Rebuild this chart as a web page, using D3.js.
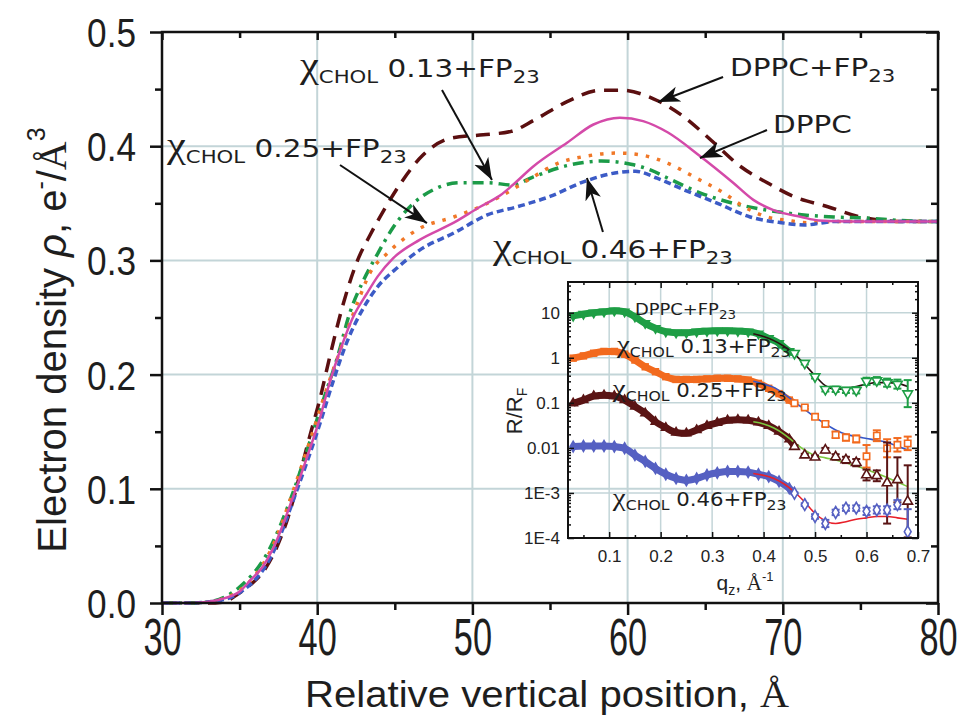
<!DOCTYPE html>
<html>
<head>
<meta charset="utf-8">
<script src="https://cdn.jsdelivr.net/npm/d3@7"></script>
<style>
  body { margin: 0; background: #fff; }
  text { white-space: pre; }
</style>
</head>
<body>
<script>
// ---------- main plot data: electron density profiles ----------
var dppcX = [30, 32, 33, 34, 35, 35.7, 36.5, 37.2, 38.5, 39.35, 40.2, 40.8, 41.5, 42.3, 43.2, 43.9, 44.9, 46.6, 48.8, 50.5, 51.8, 52.6, 53.9, 56.1, 57.8, 59.5, 61.0, 62.6, 64.7, 66.8, 68.1, 69.4, 71.2, 72.3, 74.4, 77, 80];
var dppcY = [0, 0, 0.001, 0.004, 0.010, 0.02, 0.032, 0.049, 0.095, 0.128, 0.163, 0.193, 0.222, 0.250, 0.271, 0.286, 0.302, 0.318, 0.333, 0.347, 0.357, 0.366, 0.382, 0.403, 0.419, 0.425, 0.422, 0.412, 0.391, 0.368, 0.353, 0.344, 0.338, 0.335, 0.334, 0.334, 0.334];

var dppcFpX = [30, 33, 34, 34.8, 35.7, 36.5, 37.4, 38.0, 39.5, 40.2, 40.8, 41.7, 42.6, 43.4, 44.3, 45.4, 46.8, 48.6, 50.7, 52.5, 54.0, 56.1, 58.3, 59.6, 61.9, 63.6, 65.4, 67.3, 69.0, 70.7, 72.9, 75.0, 76.5, 78, 80];
var dppcFpY = [0, 0, 0.001, 0.007, 0.016, 0.027, 0.049, 0.07, 0.145, 0.18, 0.215, 0.263, 0.300, 0.322, 0.344, 0.368, 0.392, 0.407, 0.410, 0.413, 0.423, 0.439, 0.449, 0.449, 0.440, 0.426, 0.405, 0.382, 0.368, 0.356, 0.347, 0.338, 0.335, 0.334, 0.334];

var chol13X = [30, 32, 33, 34, 35.0, 36.8, 38.5, 39.5, 40.4, 41.3, 42.1, 43.0, 43.9, 44.9, 46.2, 47.5, 49.2, 51.0, 52.6, 53.9, 56.1, 58.3, 60.3, 61.5, 62.6, 64.7, 66.8, 69.0, 71.2, 73.3, 75.5, 77.5, 80];
var chol13Y = [0, 0, 0.001, 0.005, 0.014, 0.044, 0.099, 0.140, 0.178, 0.215, 0.254, 0.283, 0.306, 0.329, 0.350, 0.362, 0.368, 0.368, 0.366, 0.373, 0.383, 0.387, 0.384, 0.379, 0.372, 0.359, 0.350, 0.344, 0.340, 0.338, 0.337, 0.335, 0.334];

var chol25X = [30, 32, 33, 34, 35.0, 37.0, 38.7, 39.7, 40.6, 41.5, 42.6, 43.4, 44.5, 45.5, 46.6, 48.8, 50.5, 51.8, 53.9, 55.5, 57.2, 59.4, 61.0, 62.6, 64.3, 66.2, 67.5, 69.0, 70.3, 71.6, 73.3, 76, 80];
var chol25Y = [0, 0, 0.001, 0.004, 0.011, 0.046, 0.108, 0.149, 0.187, 0.222, 0.263, 0.289, 0.306, 0.318, 0.328, 0.338, 0.347, 0.356, 0.373, 0.385, 0.391, 0.394, 0.392, 0.385, 0.373, 0.359, 0.347, 0.338, 0.335, 0.333, 0.334, 0.334, 0.334];

var chol46X = [30, 32, 33, 34, 35.0, 37.0, 38.7, 40.2, 41.0, 41.9, 42.8, 43.9, 45.2, 46.6, 48.8, 51.0, 52.9, 55.0, 57.2, 59.4, 60.5, 61.9, 63.6, 65.8, 67.9, 69.9, 71.4, 73.3, 76, 80];
var chol46Y = [0, 0, 0.001, 0.003, 0.009, 0.040, 0.099, 0.158, 0.193, 0.228, 0.254, 0.277, 0.294, 0.309, 0.324, 0.340, 0.347, 0.356, 0.369, 0.377, 0.378, 0.372, 0.362, 0.350, 0.338, 0.333, 0.331, 0.334, 0.334, 0.334];

var xTicks = [30, 40, 50, 60, 70, 80];
var xMinor = [35, 45, 55, 65, 75];
var yTicks = [0, 0.1, 0.2, 0.3, 0.4, 0.5];
var yMinor = [0.05, 0.15, 0.25, 0.35, 0.45];

// ---------- inset data: reflectivity R/RF ----------
var qDense = [0.03, 0.05, 0.07, 0.09, 0.11, 0.13, 0.15, 0.17, 0.19, 0.21, 0.23, 0.25, 0.27, 0.29, 0.31, 0.33, 0.35, 0.37, 0.39, 0.41, 0.43, 0.45];
var rGreen  = [8.5, 9.3, 10, 10.5, 11, 10.5, 8.1, 5.8, 4.5, 3.8, 3.6, 3.6, 3.8, 3.9, 4.0, 4.0, 3.9, 3.8, 3.4, 2.7, 2.1, 1.4];
var rOrange = [0.98, 1.10, 1.26, 1.38, 1.38, 1.20, 0.89, 0.63, 0.49, 0.38, 0.33, 0.33, 0.33, 0.34, 0.35, 0.35, 0.34, 0.32, 0.27, 0.21, 0.16, 0.115];
var rBrown  = [0.098, 0.115, 0.141, 0.148, 0.141, 0.115, 0.083, 0.059, 0.038, 0.028, 0.022, 0.021, 0.025, 0.031, 0.036, 0.041, 0.042, 0.041, 0.037, 0.031, 0.023, 0.0155];
var rBlue   = [0.0107, 0.011, 0.011, 0.011, 0.0107, 0.0098, 0.0069, 0.0050, 0.0035, 0.0026, 0.0021, 0.0019, 0.0021, 0.0025, 0.0028, 0.0030, 0.0030, 0.0029, 0.0026, 0.0023, 0.0018, 0.00126];

var qSparse = [0.46, 0.48, 0.50, 0.52, 0.54, 0.56, 0.58, 0.60, 0.62, 0.64, 0.66, 0.68];
var sGreen  = [1.26, 0.76, 0.38, 0.20, 0.20, 0.19, 0.19, 0.30, 0.31, 0.28, 0.26, 0.16];
var sOrange = [0.098, 0.079, 0.049, 0.034, 0.0195, 0.017, 0.0158, 0.0065, 0.0186, 0.0098, 0.0117, 0.0126];
var sBrown  = [0.0107, 0.0069, 0.0062, 0.0089, 0.0063, 0.0054, 0.0047, 0.0025, 0.0024, 0.00166, 0.00195, 0.00065];
var sBlue   = [0.00098, 0.00055, 0.0003, 0.00021, 0.00037, 0.00046, 0.00046, 0.00039, 0.00042, 0.00042, 0.00055, 0.000138];
// error half-widths, in decades
var eGreen  = [0.03, 0.03, 0.04, 0.05, 0.06, 0.06, 0.07, 0.08, 0.08, 0.09, 0.1, 0.3];
var eOrange = [0.02, 0.03, 0.04, 0.05, 0.07, 0.07, 0.08, 0.25, 0.12, 0.2, 0.15, 0.15];
var eBrown  = [0.03, 0.03, 0.04, 0.05, 0.06, 0.07, 0.08, 0.12, 0.12, 0.9, 0.5, 0.8];
var eBlue   = [0.02, 0.03, 0.05, 0.08, 0.06, 0.06, 0.06, 0.08, 0.08, 0.08, 0.1, 0.5];

var qFit = [0.38, 0.40, 0.42, 0.44, 0.46, 0.48, 0.50, 0.52, 0.54, 0.56, 0.58, 0.60, 0.62, 0.64, 0.66, 0.68];
var fGreen  = [3.4, 2.95, 2.4, 1.78, 1.2, 0.71, 0.40, 0.24, 0.20, 0.21, 0.23, 0.26, 0.28, 0.28, 0.27, 0.23];
var fOrange = [0.30, 0.26, 0.22, 0.158, 0.105, 0.071, 0.048, 0.034, 0.025, 0.020, 0.0178, 0.0162, 0.0148, 0.0132, 0.011, 0.0089];
var fBrown  = [0.038, 0.034, 0.0275, 0.020, 0.0132, 0.0089, 0.0068, 0.006, 0.0054, 0.0047, 0.004, 0.0033, 0.0027, 0.0022, 0.00174, 0.00138];
var fBlue   = [0.0027, 0.00245, 0.0021, 0.00158, 0.00105, 0.00063, 0.00035, 0.00024, 0.00021, 0.00023, 0.00026, 0.00028, 0.0003, 0.0003, 0.00028, 0.00026];

var qTicks = [0.1, 0.2, 0.3, 0.4, 0.5, 0.6, 0.7];
var qMinor = [0.05, 0.15, 0.25, 0.35, 0.45, 0.55, 0.65];
var rTicks = [1e-4, 1e-3, 0.01, 0.1, 1, 10];
var rTickLabels = ["1E-4", "1E-3", "0.01", "0.1", "1", "10"];

document.addEventListener('DOMContentLoaded', function () {
  draw();
}, false);

function zip(a, b) {
  return a.map(function(v, i){ return [v, b[i]]; });
}

// text made of pieces, some lowered as subscripts
function richText(g, px, py, parts, sx) {
  var t = g.append("text")
    .attr("transform", "translate(" + px + "," + py + ") scale(" + sx + ",1)")
    .attr("font-family", "DejaVu Sans")
    .attr("fill", "#1e1e1e");
  var shift = 0;
  parts.forEach(function(p){
    var ts = t.append("tspan").text(p[0]).attr("font-size", p[1]);
    if (p[0] === "χ") ts.attr("font-family", "Liberation Serif, serif");
    var dy = p[2] - shift;
    if (dy) ts.attr("dy", dy);
    shift = p[2];
  });
}

function chiParts(num, big, mid, small, sub) {
  return [["χ", big, 0], ["CHOL", small, sub], [" " + num + "+FP", mid, 0], ["23", small, sub]];
}

function draw() {
  var svg = d3.select("body").append("svg")
    .attr("width", 963).attr("height", 721);

  var x = d3.scaleLinear().domain([30, 80]).range([162, 938]);
  var y = d3.scaleLinear().domain([0, 0.5]).range([603, 32]);
  var gridColor = "#c3d5d8";

  // grid
  svg.append("g").selectAll("line").data([40, 50, 60, 70]).enter().append("line")
    .attr("x1", function(d){ return x(d); }).attr("x2", function(d){ return x(d); })
    .attr("y1", y(0)).attr("y2", y(0.5))
    .attr("stroke", gridColor).attr("stroke-width", 2);
  svg.append("g").selectAll("line").data([0.1, 0.2, 0.3, 0.4]).enter().append("line")
    .attr("y1", function(d){ return y(d); }).attr("y2", function(d){ return y(d); })
    .attr("x1", x(30)).attr("x2", x(80))
    .attr("stroke", gridColor).attr("stroke-width", 2);

  // ---------------- inset ----------------
  var qx = d3.scaleLinear().domain([0.02, 0.7]).range([568, 918]);
  var ry = d3.scaleLog().domain([1e-4, 48]).range([538, 282]);
  var inset = svg.append("g");

  inset.append("clipPath").attr("id", "insetClip").append("rect")
    .attr("x", 568).attr("y", 282).attr("width", 350).attr("height", 256);

  inset.append("g").selectAll("line").data([0.1, 0.2, 0.3, 0.4, 0.5, 0.6]).enter().append("line")
    .attr("x1", function(d){ return qx(d); }).attr("x2", function(d){ return qx(d); })
    .attr("y1", 282).attr("y2", 538)
    .attr("stroke", gridColor).attr("stroke-width", 1.5);
  inset.append("g").selectAll("line").data([1e-3, 0.01, 0.1, 1, 10]).enter().append("line")
    .attr("y1", function(d){ return ry(d); }).attr("y2", function(d){ return ry(d); })
    .attr("x1", 568).attr("x2", 918)
    .attr("stroke", gridColor).attr("stroke-width", 1.5);

  var series = [
    { dense: rGreen,  sparse: sGreen,  err: eGreen,  fit: fGreen,  color: "#1e9e45", fitColor: "#2a1010", sym: d3.symbolTriangle, rot: 180 },
    { dense: rOrange, sparse: sOrange, err: eOrange, fit: fOrange, color: "#f26a1e", fitColor: "#3556c8", sym: d3.symbolSquare, rot: 0 },
    { dense: rBrown,  sparse: sBrown,  err: eBrown,  fit: fBrown,  color: "#5a1414", fitColor: "#7cc940", sym: d3.symbolTriangle, rot: 0 },
    { dense: rBlue,   sparse: sBlue,   err: eBlue,   fit: fBlue,   color: "#5560c2", fitColor: "#e8202a", sym: d3.symbolDiamond, rot: 0 }
  ];

  var inLine = d3.line()
    .x(function(d){ return qx(d[0]); })
    .y(function(d){ return ry(d[1]); })
    .curve(d3.curveMonotoneX);

  var plotG = inset.append("g").attr("clip-path", "url(#insetClip)");

  series.forEach(function(s){
    var pts = zip(qDense, s.dense);
    // thick band of dense data points
    plotG.append("path").datum(pts.concat([[qSparse[0], s.sparse[0]]]))
      .attr("d", inLine).attr("fill", "none")
      .attr("stroke", s.color).attr("stroke-width", 7);
    plotG.append("g").selectAll("path").data(pts).enter().append("path")
      .attr("d", d3.symbol().type(s.sym).size(55))
      .attr("transform", function(d){ return "translate(" + qx(d[0]) + "," + ry(d[1]) + ") rotate(" + s.rot + ")"; })
      .attr("fill", s.color);
  });

  series.forEach(function(s){
    plotG.append("path").datum(zip(qFit, s.fit))
      .attr("d", inLine).attr("fill", "none")
      .attr("stroke", s.fitColor).attr("stroke-width", 1.6);
  });

  series.forEach(function(s){
    var pts = qSparse.map(function(q, i){ return { q: q, r: s.sparse[i], e: s.err[i] }; });
    var eg = plotG.append("g").attr("stroke", s.color).attr("stroke-width", 2);
    eg.selectAll(".eb").data(pts).enter().append("line")
      .attr("x1", function(d){ return qx(d.q); }).attr("x2", function(d){ return qx(d.q); })
      .attr("y1", function(d){ return ry(d.r * Math.pow(10, d.e)); })
      .attr("y2", function(d){ return ry(d.r / Math.pow(10, d.e)); });
    eg.selectAll(".capT").data(pts).enter().append("line")
      .attr("x1", function(d){ return qx(d.q) - 4; }).attr("x2", function(d){ return qx(d.q) + 4; })
      .attr("y1", function(d){ return ry(d.r * Math.pow(10, d.e)); })
      .attr("y2", function(d){ return ry(d.r * Math.pow(10, d.e)); });
    eg.selectAll(".capB").data(pts).enter().append("line")
      .attr("x1", function(d){ return qx(d.q) - 4; }).attr("x2", function(d){ return qx(d.q) + 4; })
      .attr("y1", function(d){ return ry(d.r / Math.pow(10, d.e)); })
      .attr("y2", function(d){ return ry(d.r / Math.pow(10, d.e)); });
    plotG.append("g").selectAll("path").data(pts).enter().append("path")
      .attr("d", d3.symbol().type(s.sym).size(40))
      .attr("transform", function(d){ return "translate(" + qx(d.q) + "," + ry(d.r) + ") rotate(" + s.rot + ")"; })
      .attr("fill", "#fff").attr("stroke", s.color).attr("stroke-width", 1.6);
  });

  // inset frame + ticks
  inset.append("rect").attr("x", 568).attr("y", 282).attr("width", 350).attr("height", 256)
    .attr("fill", "none").attr("stroke", "#111").attr("stroke-width", 2);

  var logMinor = [];
  [1e-4, 1e-3, 0.01, 0.1, 1, 10].forEach(function(dec){
    for (var k = 2; k <= 9; k++) {
      if (dec * k <= 48) logMinor.push(dec * k);
    }
  });

  var ia = inset.append("g");
  ia.append("g").attr("transform", "translate(0,538)")
    .call(d3.axisBottom(qx).tickValues(qTicks).tickSize(-6).tickPadding(12).tickSizeOuter(0)
      .tickFormat(d3.format(".1f")));
  ia.append("g").attr("transform", "translate(0,538)")
    .call(d3.axisBottom(qx).tickValues(qMinor).tickSize(-3).tickFormat("").tickSizeOuter(0));
  ia.append("g").attr("transform", "translate(0,282)")
    .call(d3.axisTop(qx).tickValues(qTicks.slice(0, 6)).tickSize(-6).tickFormat("").tickSizeOuter(0));
  ia.append("g").attr("transform", "translate(0,282)")
    .call(d3.axisTop(qx).tickValues(qMinor).tickSize(-3).tickFormat("").tickSizeOuter(0));
  ia.append("g").attr("transform", "translate(568,0)")
    .call(d3.axisLeft(ry).tickValues(rTicks).tickSize(-6).tickPadding(8).tickSizeOuter(0)
      .tickFormat(function(d, i){ return rTickLabels[i]; }));
  ia.append("g").attr("transform", "translate(568,0)")
    .call(d3.axisLeft(ry).tickValues(logMinor).tickSize(-3).tickFormat("").tickSizeOuter(0));
  ia.append("g").attr("transform", "translate(918,0)")
    .call(d3.axisRight(ry).tickValues(rTicks).tickSize(-6).tickFormat("").tickSizeOuter(0));
  ia.append("g").attr("transform", "translate(918,0)")
    .call(d3.axisRight(ry).tickValues(logMinor).tickSize(-3).tickFormat("").tickSizeOuter(0));
  ia.selectAll(".domain").remove();
  ia.selectAll(".tick line").attr("stroke", "#111").attr("stroke-width", 1.5);
  ia.selectAll(".tick text").attr("font-family", "Liberation Sans, Arial").attr("font-size", 17).attr("fill", "#222");

  // inset axis titles
  var rl = inset.append("text")
    .attr("transform", "translate(522,411) rotate(-90)")
    .attr("text-anchor", "middle")
    .attr("font-family", "Liberation Sans, Arial").attr("font-size", 22).attr("fill", "#222");
  rl.append("tspan").text("R/R");
  rl.append("tspan").text("F").attr("font-size", 14).attr("dy", 5);

  var ql = inset.append("text")
    .attr("x", 745).attr("y", 590)
    .attr("text-anchor", "middle")
    .attr("font-family", "Liberation Sans, Arial").attr("font-size", 21).attr("fill", "#222");
  ql.append("tspan").text("q");
  ql.append("tspan").text("z").attr("font-size", 14).attr("dy", 5);
  ql.append("tspan").text(", ").attr("dy", -5);
  ql.append("tspan").text("Å").attr("font-family", "Liberation Serif, serif");
  ql.append("tspan").text("-1").attr("font-size", 13).attr("dy", -9);

  // inset labels
  richText(inset, qx(0.150), ry(8.9), [["DPPC+FP", 16, 0], ["23", 12, 4]], 1.12);
  richText(inset, qx(0.115), ry(1.3), chiParts("0.13", 26, 19, 14, 4), 1.12);
  richText(inset, qx(0.107), ry(0.135), chiParts("0.25", 26, 19, 14, 4), 1.12);
  richText(inset, qx(0.107), ry(0.00052), chiParts("0.46", 26, 19, 14, 4), 1.12);

  // ---------------- main curves ----------------
  var line = d3.line()
    .x(function(d){ return x(d[0]); })
    .y(function(d){ return y(d[1]); })
    .curve(d3.curveMonotoneX);

  var curves = [
    { data: zip(dppcFpX, dppcFpY), color: "#5b0f10", width: 3.5, dash: "14,9" },
    { data: zip(chol13X, chol13Y), color: "#1c9b48", width: 3.5, dash: "11,6,3,6" },
    { data: zip(chol25X, chol25Y), color: "#f07828", width: 3.5, dash: "3.5,8" },
    { data: zip(chol46X, chol46Y), color: "#3c5bc6", width: 3.5, dash: "7,4" },
    { data: zip(dppcX, dppcY), color: "#d44aa9", width: 2.5, dash: null }
  ];
  curves.forEach(function(c){
    svg.append("path").datum(c.data)
      .attr("d", line).attr("fill", "none")
      .attr("stroke", c.color).attr("stroke-width", c.width)
      .attr("stroke-dasharray", c.dash);
  });

  // ---------------- main axes ----------------
  var ax = svg.append("g");
  var bottomG = ax.append("g").attr("transform", "translate(0,603)")
    .call(d3.axisBottom(x).tickValues(xTicks).tickSize(12).tickSizeOuter(0).tickFormat(d3.format("d")));
  ax.append("g").attr("transform", "translate(0,603)")
    .call(d3.axisBottom(x).tickValues(xMinor).tickSize(7).tickFormat("").tickSizeOuter(0));
  ax.append("g").attr("transform", "translate(0,32)")
    .call(d3.axisTop(x).tickValues(xTicks).tickSize(-8).tickFormat("").tickSizeOuter(0));
  ax.append("g").attr("transform", "translate(0,32)")
    .call(d3.axisTop(x).tickValues(xMinor).tickSize(-6).tickFormat("").tickSizeOuter(0));
  var leftG = ax.append("g").attr("transform", "translate(162,0)")
    .call(d3.axisLeft(y).tickValues(yTicks).tickSize(12).tickSizeOuter(0).tickFormat(d3.format(".1f")));
  ax.append("g").attr("transform", "translate(162,0)")
    .call(d3.axisLeft(y).tickValues(yMinor).tickSize(7).tickFormat("").tickSizeOuter(0));
  ax.append("g").attr("transform", "translate(938,0)")
    .call(d3.axisRight(y).tickValues(yTicks).tickSize(-12).tickFormat("").tickSizeOuter(0));
  ax.append("g").attr("transform", "translate(938,0)")
    .call(d3.axisRight(y).tickValues(yMinor).tickSize(-7).tickFormat("").tickSizeOuter(0));
  ax.selectAll(".domain").remove();
  ax.selectAll(".tick line").attr("stroke", "#111").attr("stroke-width", 2.5);

  ax.append("rect").attr("x", 162).attr("y", 32).attr("width", 776).attr("height", 571)
    .attr("fill", "none").attr("stroke", "#111").attr("stroke-width", 2.5);

  ax.selectAll(".tick text").attr("font-family", "Liberation Sans, Arial").attr("fill", "#1e1e1e");
  // x tick labels: tall, narrow digits
  bottomG.selectAll(".tick text")
    .attr("font-size", 52).attr("y", 0).attr("dy", 0)
    .attr("transform", "translate(0,52) scale(0.66,1)");
  leftG.selectAll(".tick text")
    .attr("font-size", 40).attr("x", 0).attr("dy", "0.36em")
    .attr("transform", "translate(-26,0) scale(0.88,1)");

  // axis titles
  var xl = svg.append("text")
    .attr("x", 547).attr("y", 707)
    .attr("text-anchor", "middle")
    .attr("textLength", 484).attr("lengthAdjust", "spacingAndGlyphs")
    .attr("font-family", "Liberation Sans, Arial").attr("font-size", 37).attr("fill", "#1e1e1e");
  xl.append("tspan").text("Relative vertical position, ");
  xl.append("tspan").text("Å").attr("font-family", "Liberation Serif, serif");

  var yl = svg.append("text")
    .attr("transform", "translate(66,340) rotate(-90)")
    .attr("text-anchor", "middle")
    .attr("font-family", "Liberation Sans, Arial").attr("font-size", 40).attr("fill", "#1e1e1e");
  yl.append("tspan").text("Electron density ");
  yl.append("tspan").text("ρ").attr("font-style", "italic");
  yl.append("tspan").text(", e");
  yl.append("tspan").text("-").attr("font-size", 25).attr("dy", -17);
  yl.append("tspan").text("/").attr("dy", 17);
  yl.append("tspan").text("Å").attr("font-family", "Liberation Serif, serif");
  yl.append("tspan").text("3").attr("font-size", 25).attr("dy", -21);

  // ---------------- annotations ----------------
  svg.append("defs").append("marker")
    .attr("id", "head").attr("markerUnits", "userSpaceOnUse")
    .attr("markerWidth", 24).attr("markerHeight", 18)
    .attr("refX", 22).attr("refY", 8).attr("orient", "auto")
    .append("path").attr("d", "M0,0 L22,8 L0,16 L6,8 Z").attr("fill", "#111");

  var arrows = [
    [66.15, 0.4606, 61.96, 0.4387],
    [68.98, 0.4142, 64.66, 0.3897],
    [48.04, 0.4492, 51.26, 0.3704],
    [41.47, 0.3835, 47.07, 0.3327],
    [58.41, 0.3249, 57.38, 0.3722]
  ];
  svg.append("g").selectAll("line").data(arrows).enter().append("line")
    .attr("x1", function(d){ return x(d[0]); }).attr("y1", function(d){ return y(d[1]); })
    .attr("x2", function(d){ return x(d[2]); }).attr("y2", function(d){ return y(d[3]); })
    .attr("stroke", "#111").attr("stroke-width", 2)
    .attr("marker-end", "url(#head)");

  richText(svg, x(66.6), y(0.4615), [["DPPC+FP", 25, 0], ["23", 18, 6]], 1.18);
  richText(svg, x(69.37), y(0.4116), [["DPPC", 25, 0]], 1.18);
  richText(svg, x(38.89), y(0.4606), chiParts("0.13", 36, 25, 18, 6), 1.18);
  richText(svg, x(30.32), y(0.3905), chiParts("0.25", 36, 25, 18, 6), 1.18);
  richText(svg, x(51.33), y(0.3021), chiParts("0.46", 36, 25, 18, 6), 1.18);
}
</script>
</body>
</html>
